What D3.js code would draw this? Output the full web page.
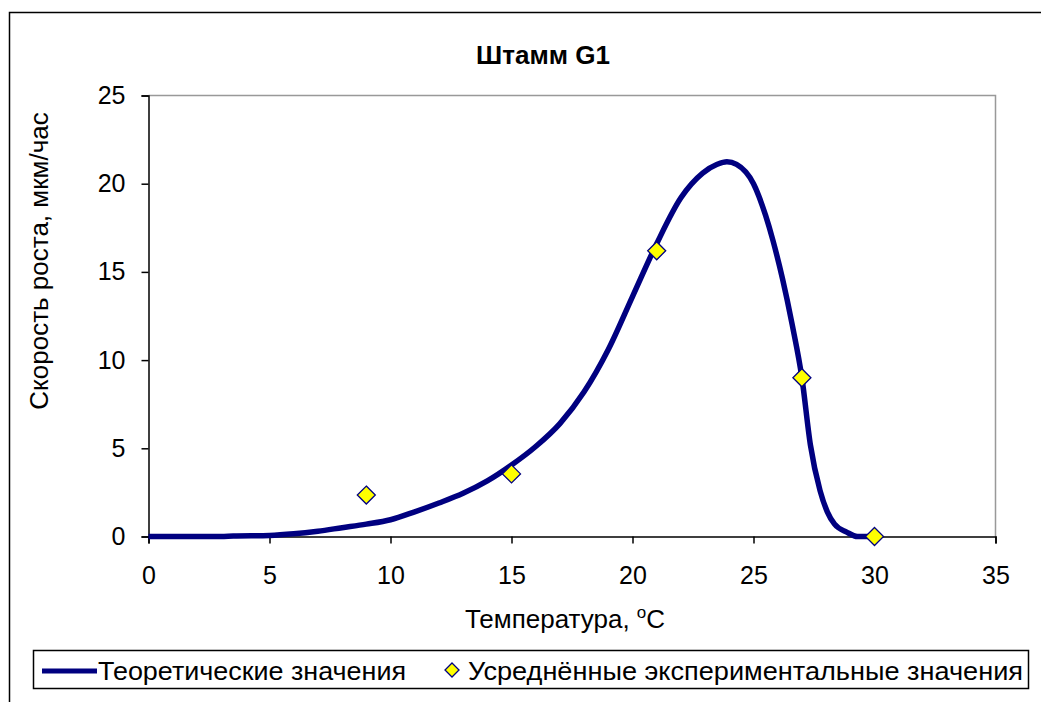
<!DOCTYPE html>
<html>
<head>
<meta charset="utf-8">
<script src="https://cdn.jsdelivr.net/npm/d3@7"></script>
<style>
  body { margin: 0; background: #fff; }
  svg { display: block; font-family: "Liberation Sans", Arial, sans-serif; }
</style>
</head>
<body>
<svg width="1041" height="702"></svg>
<script>
// theoretical curve
const curveT = [0, 1, 2, 3, 3.5, 5, 6, 7, 8, 9, 10, 11, 12, 13, 14, 15, 16, 17, 18, 19, 20, 21, 22, 22.9, 23.5, 23.9, 24.3, 25, 25.5, 25.8, 26.2, 26.6, 27, 27.35, 27.75, 28.05, 28.35, 28.85, 29.3, 30];
const curveV = [0, 0, 0, 0, 0.03, 0.06, 0.15, 0.3, 0.5, 0.7, 0.95, 1.4, 1.9, 2.45, 3.15, 4.05, 5.1, 6.4, 8.2, 10.6, 13.6, 16.6, 19.2, 20.6, 21.1, 21.25, 21.1, 20.0, 18.2, 16.8, 14.6, 12.0, 9.0, 5.2, 2.6, 1.4, 0.7, 0.25, 0, 0];

// averaged experimental points
const expT = [9, 15, 21, 27, 30];
const expV = [2.35, 3.55, 16.2, 9.0, 0];

const xTicks = [0, 5, 10, 15, 20, 25, 30, 35];
const yTicks = [0, 5, 10, 15, 20, 25];

const titleText = "Штамм G1";
const xLabel = "Температура, ";
const yLabel = "Скорость роста, мкм/час";
const legendNames = ["Теоретические значения", "Усреднённые экспериментальные значения"];

const navy = "#000080";
const svg = d3.select("svg");

// outer chart frame (runs off the right/bottom edge)
svg.append("rect")
   .attr("x", 9.5).attr("y", 12.5)
   .attr("width", 1060).attr("height", 720)
   .attr("fill", "none").attr("stroke", "#000").attr("stroke-width", 1.5);

const x = d3.scaleLinear().domain([0, 35]).range([148.5, 995.5]);
const y = d3.scaleLinear().domain([0, 25]).range([536.5, 95.5]);

// plot area top & right border
svg.append("path")
   .attr("d", `M${x(0)},${y(25)}H${x(35)}V${y(0)}`)
   .attr("fill", "none").attr("stroke", "#999").attr("stroke-width", 1.5);

const xAxis = svg.append("g")
   .attr("transform", `translate(0,${y(0)})`)
   .call(d3.axisBottom(x).tickValues(xTicks).tickSize(7).tickPadding(23));
const yAxis = svg.append("g")
   .attr("transform", `translate(${x(0)},0)`)
   .call(d3.axisLeft(y).tickValues(yTicks).tickSize(7).tickPadding(16));

[xAxis, yAxis].forEach(function(g){
    g.select(".domain").attr("stroke", "#000").attr("stroke-width", 1.5);
    g.selectAll(".tick line").attr("stroke", "#000").attr("stroke-width", 1.5);
    g.selectAll("text").attr("font-size", 25).attr("fill", "#000")
     .attr("font-family", "Liberation Sans, Arial, sans-serif");
});

// curve
const curve = curveT.map(function(t, i){ return [t, curveV[i]]; });
svg.append("path")
   .datum(curve)
   .attr("fill", "none")
   .attr("stroke", navy)
   .attr("stroke-width", 5.5)
   .attr("stroke-linejoin", "round")
   .attr("d", d3.line().x(d => x(d[0])).y(d => y(d[1])).curve(d3.curveMonotoneX));

// diamonds
const diamond = function(r){ return `M0,${-r}L${r},0L0,${r}L${-r},0Z`; };
svg.selectAll("path.pt")
   .data(expT)
   .enter()
   .append("path")
   .attr("class", "pt")
   .attr("transform", (d, i) => `translate(${x(d)},${y(expV[i])})`)
   .attr("d", diamond(9))
   .attr("fill", "#ffff00")
   .attr("stroke", navy)
   .attr("stroke-width", 1.3);

// title
svg.append("text")
   .attr("x", 543).attr("y", 64)
   .attr("text-anchor", "middle")
   .attr("font-size", 25).attr("font-weight", "bold")
   .attr("textLength", 134).attr("lengthAdjust", "spacingAndGlyphs")
   .text(titleText);

// axis titles
const xl = svg.append("text")
   .attr("x", 565).attr("y", 628)
   .attr("text-anchor", "middle")
   .attr("font-size", 26);
xl.append("tspan").text(xLabel);
xl.append("tspan").attr("font-size", 17).attr("dy", -10).text("o");
xl.append("tspan").attr("dy", 10).text("C");

svg.append("text")
   .attr("transform", "translate(48,261) rotate(-90)")
   .attr("text-anchor", "middle")
   .attr("font-size", 26)
   .text(yLabel);

// legend
svg.append("rect")
   .attr("x", 33.5).attr("y", 650.5)
   .attr("width", 995).attr("height", 38)
   .attr("fill", "#fff").attr("stroke", "#000").attr("stroke-width", 1.5);

svg.append("line")
   .attr("x1", 42).attr("x2", 97).attr("y1", 671).attr("y2", 671)
   .attr("stroke", navy).attr("stroke-width", 5);
svg.append("text")
   .attr("x", 98).attr("y", 680)
   .attr("font-size", 26)
   .attr("textLength", 308).attr("lengthAdjust", "spacingAndGlyphs")
   .text(legendNames[0]);

svg.append("path")
   .attr("transform", "translate(452,670)")
   .attr("d", diamond(7))
   .attr("fill", "#ffff00").attr("stroke", navy).attr("stroke-width", 1.3);
svg.append("text")
   .attr("x", 468).attr("y", 680)
   .attr("font-size", 26)
   .attr("textLength", 555).attr("lengthAdjust", "spacingAndGlyphs")
   .text(legendNames[1]);
</script>
</body>
</html>
